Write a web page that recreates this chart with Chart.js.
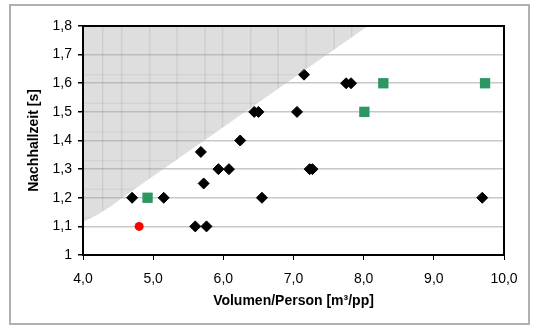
<!DOCTYPE html>
<html lang="de">
<head>
  <meta charset="UTF-8">
  <title>Nachhallzeit</title>
  <script src="https://cdn.jsdelivr.net/npm/chart.js"></script>
  <style>
    html, body { margin: 0; padding: 0; background: #fff; }
    #wrap { width: 533px; height: 332px; }
  </style>
</head>
<body>

<div id="wrap"><canvas id="grafik"></canvas></div>

<script>
  // Messpunkte (schwarze Rauten)
  const rautenX = [4.70, 5.15, 5.60, 5.76, 5.68, 5.72, 5.93, 6.08, 6.55, 6.24, 6.44, 6.50, 7.05, 7.15, 7.75, 7.82, 7.23, 7.27, 9.69];
  const rautenY = [1.20, 1.20, 1.10, 1.10, 1.36, 1.25, 1.30, 1.30, 1.20, 1.40, 1.50, 1.50, 1.50, 1.63, 1.60, 1.60, 1.30, 1.30, 1.20];

  // grüne Quadrate
  const quadratX = [4.92, 8.01, 8.28, 9.73];
  const quadratY = [1.20, 1.50, 1.60, 1.60];

  // roter Punkt
  const punktX = [4.80];
  const punktY = [1.10];

  // Grenze der grauen Fläche
  const grenzeX = [4.00, 4.20, 4.40, 4.56, 8.06];
  const grenzeY = [1.115, 1.14, 1.17, 1.20, 1.80];

  // Raster in der grauen Fläche
  const rasterX = [4.28, 4.55, 4.95, 5.34, 5.74, 5.99, 6.39, 6.78, 7.18, 7.58, 7.83];
  const rasterY = [1.13, 1.23, 1.33, 1.43, 1.53, 1.63];

  const xTicks = [4, 5, 6, 7, 8, 9, 10];

  const paare = (xs, ys) => xs.map((x, i) => ({ x: x, y: ys[i] }));

  const fmt = v => (Math.abs(v - 1) < 1e-9 ? "1" : v.toFixed(1).replace(".", ","));

  const rahmen = {
    id: "rahmen",
    beforeDraw(chart) {
      const ctx = chart.ctx;
      ctx.save();
      ctx.strokeStyle = "#b0b0b0";
      ctx.lineWidth = 2;
      ctx.strokeRect(10, 5, 519, 319);
      ctx.restore();
    },
    afterDatasetDraw(chart, args) {
      if (args.index !== 0) return;
      const xs = chart.scales.x, ys = chart.scales.y, a = chart.chartArea;
      const ctx = chart.ctx;
      ctx.save();
      ctx.beginPath();
      grenzeX.forEach((v, i) => {
        const px = xs.getPixelForValue(v), py = ys.getPixelForValue(grenzeY[i]);
        if (i === 0) ctx.moveTo(px, py); else ctx.lineTo(px, py);
      });
      ctx.lineTo(a.left, a.top);
      ctx.closePath();
      ctx.clip();
      ctx.strokeStyle = "rgba(0,0,0,0.07)";
      ctx.lineWidth = 1.5;
      rasterX.forEach(v => {
        const px = xs.getPixelForValue(v);
        ctx.beginPath(); ctx.moveTo(px, a.top); ctx.lineTo(px, a.bottom); ctx.stroke();
      });
      ctx.strokeStyle = "rgba(0,0,0,0.05)";
      rasterY.forEach(v => {
        const py = ys.getPixelForValue(v);
        ctx.beginPath(); ctx.moveTo(a.left, py); ctx.lineTo(a.right, py); ctx.stroke();
      });
      ctx.restore();
    },
    afterDatasetsDraw(chart) {
      const a = chart.chartArea;
      const ctx = chart.ctx;
      ctx.save();
      ctx.strokeStyle = "#000";
      ctx.lineWidth = 2;
      ctx.strokeRect(a.left, a.top, a.right - a.left, a.bottom - a.top);
      ctx.restore();
    }
  };

  const schrift = { family: "'Liberation Sans', Arial, sans-serif", size: 14 };

  new Chart(document.getElementById("grafik"), {
    type: "scatter",
    data: {
      datasets: [
        {
          label: "Grenze",
          data: paare(grenzeX, grenzeY),
          showLine: true,
          fill: "end",
          backgroundColor: "rgba(170,170,170,0.39)",
          borderWidth: 0,
          pointRadius: 0,
          order: 0
        },
        {
          label: "Messwerte",
          data: paare(rautenX, rautenY),
          pointStyle: "rectRot",
          pointRadius: 5.5,
          backgroundColor: "#000",
          borderColor: "#000",
          borderWidth: 1,
          order: 1
        },
        {
          label: "grün",
          data: paare(quadratX, quadratY),
          pointStyle: "rect",
          pointRadius: 7.3,
          backgroundColor: "#2e9660",
          borderColor: "#2e9660",
          borderWidth: 0,
          order: 1
        },
        {
          label: "rot",
          data: paare(punktX, punktY),
          pointStyle: "circle",
          pointRadius: 4.5,
          backgroundColor: "#ff0000",
          borderColor: "#ff0000",
          borderWidth: 0,
          order: 1
        }
      ]
    },
    options: {
      responsive: true,
      maintainAspectRatio: false,
      animation: false,
      layout: { padding: { left: 12, right: 29, top: 26, bottom: 12 } },
      plugins: {
        legend: { display: false },
        tooltip: { enabled: false }
      },
      scales: {
        x: {
          type: "linear",
          min: 4,
          max: 10,
          afterBuildTicks(axis) { axis.ticks = xTicks.map(v => ({ value: v })); },
          afterFit(axis) { axis.height = 332 - 255 - 12; },
          grid: { drawOnChartArea: false, tickLength: 5, tickColor: "#000", lineWidth: 1 },
          border: { display: false },
          ticks: {
            color: "#000",
            font: schrift,
            padding: 11,
            maxRotation: 0,
            callback: v => v.toFixed(1).replace(".", ",")
          },
          title: {
            display: true,
            text: "Volumen/Person [m³/pp]",
            color: "#000",
            font: { family: schrift.family, size: 14, weight: "bold" },
            padding: { top: 2, bottom: 10 }
          }
        },
        y: {
          min: 1,
          max: 1.8,
          ticks: {
            stepSize: 0.1,
            color: "#000",
            font: schrift,
            padding: 6,
            callback: v => fmt(v)
          },
          afterFit(axis) { axis.width = 83 - 12; },
          grid: { color: "#c8c8c8", lineWidth: 1.5, tickLength: 5, tickColor: "#000" },
          border: { display: false },
          title: {
            display: true,
            text: "Nachhallzeit [s]",
            color: "#000",
            font: { family: schrift.family, size: 14, weight: "bold" },
            padding: { top: 14, bottom: 0 }
          }
        }
      }
    },
    plugins: [rahmen]
  });
</script>

</body>
</html>
